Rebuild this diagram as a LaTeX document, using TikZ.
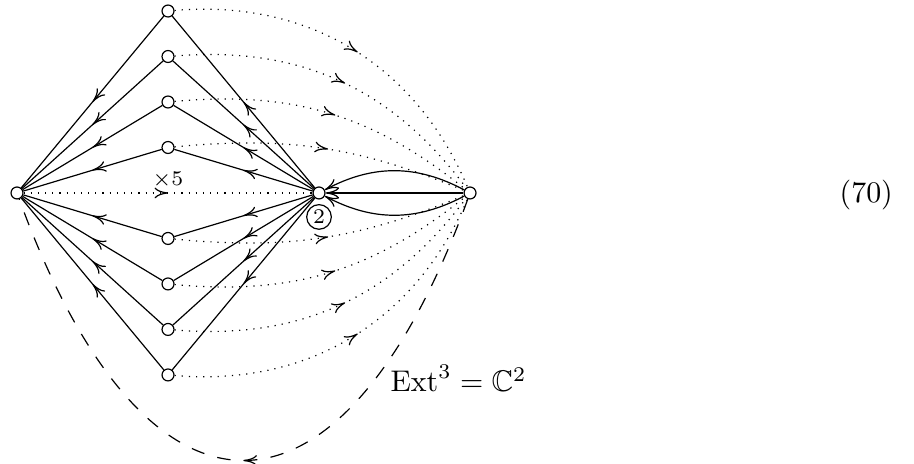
\documentclass[tikz,border=0pt]{standalone}
\usepackage{amsmath,amssymb}
\usetikzlibrary{arrows.meta,positioning,decorations.markings}

\tikzset{
  vert/.style={circle, draw, inner sep=0pt, minimum size=4pt},
  midarr/.style={postaction={decorate}, decoration={markings, mark=at position #1 with {\arrow{>}}}},
  midarr/.default=0.5,
  >={Computer Modern Rightarrow[length=4.5pt,width=3.6pt]}
}

\begin{document}
\begin{tikzpicture}[x=1.776cm, y=0.535cm, line width=0.4pt]
\useasboundingbox (-0.1126,-5.956) rectangle (5.940,4.242);
\node[vert] (L) at (0,0) {};
\node[vert] (C) at (2,0) {};
\node[vert] (R) at (3,0) {};
\node[circle, draw, inner sep=0.75pt, font=\scriptsize, below=1.5pt of C] (mult) {2};
\foreach \k in {1,...,4} {
  \node[vert] (t\k) at (1,\k) {};
  \node[vert] (b\k) at (1,-\k) {};
}
% solid arrows
\foreach \k in {1,...,4} {
  \draw[midarr] (t\k) -- (L);
  \draw[midarr] (b\k) -- (L);
  \draw[midarr] (C) -- (t\k);
  \draw[midarr] (C) -- (b\k);
}
% dotted curves to the right vertex
\foreach \k/\b in {1/14,2/22,3/29,4/36} {
  \draw[dotted, midarr=0.52] (t\k) to[bend left=\b] (R);
  \draw[dotted, midarr=0.52] (b\k) to[bend right=\b] (R);
}
\draw[dotted, midarr] (L) -- node[above=-2pt, font=\scriptsize] (mlt) {$\times5$} (C);
\draw[->] (R) -- (C);
\draw[->] (R) to[bend right=28] (C);
\draw[->] (R) to[bend left=28] (C);
\draw[dash pattern=on 4.5pt off 4.5pt, midarr] (R) to[out=-110, in=-70, looseness=2.12] (L);
\node[anchor=base west, inner sep=0pt] (ext) at (2.47,-4.374) {$\mathrm{Ext}^3=\mathbb{C}^2$};
\node[anchor=base west, inner sep=0pt] (eqno) at (5.444,-0.209) {(70)};
\end{tikzpicture}
\end{document}
